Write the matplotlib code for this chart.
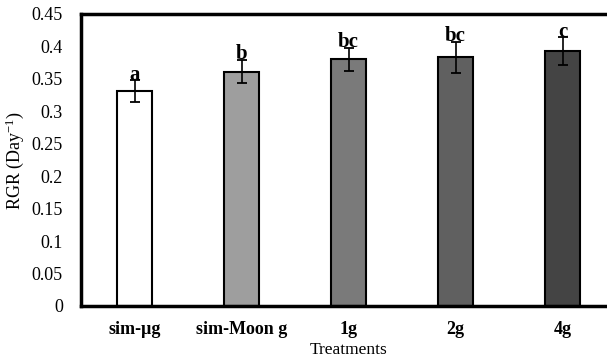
import matplotlib
matplotlib.use("Agg")
import matplotlib.pyplot as plt

treatments = ["sim-\u00b5g", "sim-Moon g", "1g", "2g", "4g"]
rgr = [0.331, 0.361, 0.380, 0.383, 0.393]
rgr_err = [0.017, 0.018, 0.018, 0.024, 0.021]
letters = ["a", "b", "bc", "bc", "c"]
colors = ["#ffffff", "#9e9e9e", "#7a7a7a", "#606060", "#444444"]

plt.rcParams["font.family"] = ["Liberation Serif", "DejaVu Serif"]
plt.rcParams["mathtext.fontset"] = "stix"

fig = plt.figure(figsize=(6.07, 3.59), dpi=100)
# axes runs past the right edge of the picture, as in the cropped original
ax = fig.add_axes([81 / 607, 53 / 359, 535 / 607, 292 / 359])

x = list(range(len(treatments)))
ax.bar(x, rgr, width=0.32, color=colors, edgecolor="black", linewidth=1.5, zorder=2)
ax.errorbar(x, rgr, yerr=rgr_err, fmt="none", ecolor="black", elinewidth=1.2,
            capsize=3.5, capthick=1.3, zorder=3)
for xi, v, e, lab in zip(x, rgr, rgr_err, letters):
    ax.text(xi, v + e + 0.001, lab, ha="center", va="baseline", fontsize=15, fontweight="bold")

ax.set_xlim(-0.5, 4.5)
ax.set_ylim(0, 0.45)
ax.set_yticks([0, 0.05, 0.1, 0.15, 0.2, 0.25, 0.3, 0.35, 0.4, 0.45])
ax.set_yticklabels(["0", "0.05", "0.1", "0.15", "0.2", "0.25", "0.3", "0.35", "0.4", "0.45"])
ax.set_xticks(x)
ax.set_xticklabels(treatments, fontweight="bold")
ax.tick_params(axis="both", length=0, labelsize=13)
ax.tick_params(axis="y", pad=13)
ax.tick_params(axis="x", pad=11)
for s in ["left", "top", "bottom"]:
    ax.spines[s].set_linewidth(2.5)
ax.spines["right"].set_visible(False)

ax.set_xlabel("Treatments", fontsize=12.5, labelpad=2.5)
ax.set_ylabel("RGR (Day$^{\\mathregular{-1}}$)", fontsize=13, labelpad=4)

fig.savefig("out.png", dpi=100)
